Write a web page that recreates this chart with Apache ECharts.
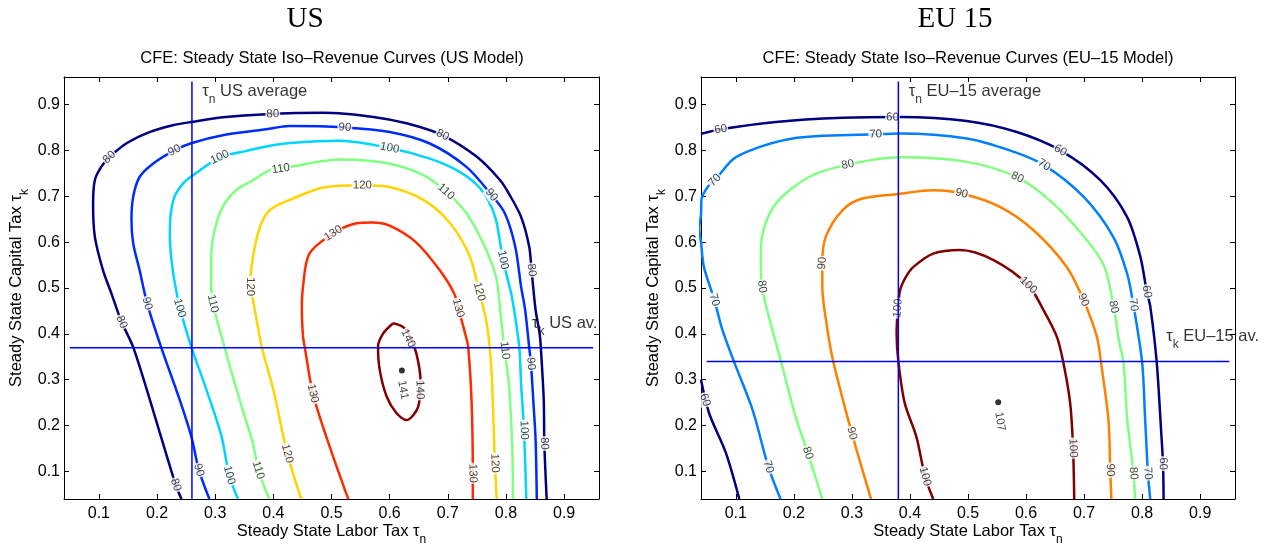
<!DOCTYPE html>
<html><head><meta charset="utf-8">
<script src="https://cdn.jsdelivr.net/npm/echarts@6/dist/echarts.min.js"></script>
<style>html,body{margin:0;padding:0;background:#fff}#c{width:1276px;height:548px}</style>
</head><body><div id="c"></div>
<script>
// ---------- data ----------
const ticks = [0.1, 0.2, 0.3, 0.4, 0.5, 0.6, 0.7, 0.8, 0.9];
const axisMin = 0.04, axisMax = 0.96;

// US model iso-revenue contours [tau_n, tau_k]
const us80 = [[0.242,0.04],[0.232,0.071],[0.193,0.234],[0.159,0.371],[0.139,0.426],[0.121,0.49],[0.107,0.539],[0.093,0.612],[0.09,0.684],[0.093,0.735],[0.104,0.764],[0.118,0.785],[0.147,0.815],[0.187,0.84],[0.227,0.855],[0.26,0.862],[0.313,0.872],[0.388,0.879],[0.486,0.882],[0.572,0.873],[0.629,0.859],[0.691,0.833],[0.75,0.786],[0.79,0.735],[0.805,0.706],[0.826,0.655],[0.84,0.59],[0.844,0.539],[0.851,0.452],[0.858,0.4],[0.86,0.37],[0.865,0.255],[0.866,0.161],[0.87,0.04]];
const us90 = [[0.29,0.04],[0.272,0.103],[0.259,0.176],[0.239,0.256],[0.207,0.371],[0.183,0.466],[0.17,0.539],[0.159,0.597],[0.156,0.648],[0.159,0.699],[0.17,0.742],[0.193,0.771],[0.23,0.8],[0.26,0.816],[0.313,0.833],[0.388,0.846],[0.428,0.853],[0.523,0.85],[0.6,0.84],[0.669,0.815],[0.732,0.764],[0.775,0.703],[0.798,0.663],[0.816,0.59],[0.826,0.503],[0.833,0.452],[0.84,0.37],[0.843,0.335],[0.847,0.255],[0.851,0.168],[0.853,0.04]];
const us100 = [[0.339,0.04],[0.324,0.092],[0.311,0.176],[0.285,0.278],[0.259,0.371],[0.239,0.456],[0.236,0.474],[0.227,0.539],[0.222,0.612],[0.223,0.655],[0.23,0.699],[0.245,0.728],[0.26,0.744],[0.308,0.785],[0.354,0.799],[0.394,0.81],[0.428,0.816],[0.514,0.821],[0.6,0.805],[0.669,0.782],[0.715,0.757],[0.75,0.725],[0.77,0.69],[0.783,0.648],[0.795,0.561],[0.809,0.488],[0.814,0.452],[0.823,0.37],[0.826,0.292],[0.831,0.19],[0.835,0.04]];
const us110 = [[0.393,0.04],[0.374,0.103],[0.365,0.161],[0.342,0.256],[0.316,0.371],[0.296,0.466],[0.293,0.503],[0.293,0.568],[0.299,0.626],[0.313,0.677],[0.336,0.713],[0.365,0.735],[0.394,0.757],[0.428,0.764],[0.514,0.78],[0.6,0.771],[0.658,0.746],[0.697,0.71],[0.732,0.663],[0.761,0.597],[0.783,0.524],[0.79,0.452],[0.797,0.37],[0.805,0.292],[0.811,0.146],[0.812,0.04]];
const us120 = [[0.448,0.04],[0.424,0.139],[0.4,0.278],[0.38,0.372],[0.365,0.474],[0.36,0.503],[0.365,0.568],[0.377,0.633],[0.394,0.67],[0.428,0.692],[0.486,0.719],[0.553,0.724],[0.6,0.72],[0.658,0.692],[0.704,0.641],[0.738,0.568],[0.754,0.492],[0.767,0.423],[0.775,0.321],[0.781,0.118],[0.784,0.04]];
const us130 = [[0.529,0.04],[0.523,0.06],[0.491,0.176],[0.468,0.27],[0.454,0.371],[0.451,0.394],[0.449,0.452],[0.451,0.503],[0.462,0.575],[0.503,0.619],[0.543,0.641],[0.57,0.643],[0.6,0.636],[0.645,0.6],[0.686,0.539],[0.711,0.488],[0.718,0.456],[0.73,0.4],[0.735,0.372],[0.741,0.249],[0.743,0.096],[0.743,0.04]];
const us140 = [[0.606,0.423],[0.623,0.415],[0.635,0.394],[0.646,0.357],[0.653,0.299],[0.649,0.241],[0.629,0.212],[0.612,0.227],[0.595,0.263],[0.583,0.321],[0.58,0.372],[0.589,0.401],[0.606,0.423]];

// contour label positions (US)
const us80Labels = [[0.118,0.785],[0.399,0.879],[0.691,0.833],[0.844,0.539],[0.866,0.161],[0.232,0.071],[0.139,0.426]];
const us90Labels = [[0.23,0.8],[0.523,0.85],[0.775,0.703],[0.843,0.335],[0.272,0.103],[0.183,0.466]];
const us100Labels = [[0.308,0.785],[0.6,0.805],[0.795,0.561],[0.831,0.19],[0.324,0.092],[0.239,0.456]];
const us110Labels = [[0.413,0.76],[0.697,0.71],[0.798,0.364],[0.374,0.103],[0.296,0.466]];
const us120Labels = [[0.36,0.503],[0.553,0.724],[0.754,0.492],[0.781,0.118],[0.424,0.139]];
const us130Labels = [[0.503,0.619],[0.718,0.456],[0.743,0.096],[0.468,0.27]];
const us140Labels = [[0.632,0.39],[0.652,0.278]];

// EU-15 model iso-revenue contours
const eu60Top = [[0.04,0.836],[0.074,0.846],[0.169,0.862],[0.284,0.871],[0.383,0.873],[0.498,0.864],[0.584,0.84],[0.659,0.8],[0.728,0.735],[0.774,0.655],[0.797,0.568],[0.808,0.492],[0.814,0.46],[0.825,0.34],[0.833,0.183],[0.836,0.117],[0.837,0.04]];
const eu60Low = [[0.04,0.3],[0.054,0.227],[0.083,0.14],[0.106,0.04]];
const eu70 = [[0.177,0.04],[0.156,0.11],[0.129,0.234],[0.097,0.339],[0.077,0.408],[0.063,0.474],[0.045,0.546],[0.04,0.6],[0.037,0.63],[0.04,0.66],[0.041,0.695],[0.052,0.721],[0.064,0.735],[0.101,0.786],[0.198,0.826],[0.341,0.835],[0.383,0.837],[0.498,0.826],[0.572,0.8],[0.631,0.768],[0.699,0.699],[0.75,0.612],[0.774,0.532],[0.785,0.463],[0.8,0.338],[0.805,0.219],[0.81,0.096],[0.814,0.04]];
const eu80 = [[0.249,0.04],[0.224,0.14],[0.203,0.219],[0.178,0.339],[0.157,0.437],[0.145,0.503],[0.143,0.56],[0.145,0.612],[0.169,0.684],[0.226,0.742],[0.293,0.769],[0.383,0.785],[0.498,0.775],[0.585,0.741],[0.647,0.684],[0.705,0.604],[0.735,0.546],[0.751,0.459],[0.76,0.386],[0.768,0.336],[0.774,0.219],[0.785,0.096],[0.788,0.04]];
const eu90 = [[0.333,0.04],[0.3,0.183],[0.268,0.339],[0.258,0.408],[0.249,0.503],[0.249,0.554],[0.255,0.612],[0.284,0.67],[0.318,0.695],[0.38,0.705],[0.44,0.713],[0.489,0.706],[0.555,0.677],[0.613,0.626],[0.67,0.546],[0.699,0.474],[0.722,0.394],[0.729,0.339],[0.742,0.212],[0.745,0.103],[0.747,0.04]];
const eu100 = [[0.44,0.04],[0.426,0.089],[0.411,0.176],[0.391,0.249],[0.38,0.34],[0.377,0.4],[0.379,0.452],[0.383,0.495],[0.393,0.524],[0.406,0.546],[0.44,0.575],[0.486,0.583],[0.544,0.561],[0.604,0.506],[0.63,0.452],[0.653,0.394],[0.664,0.339],[0.676,0.249],[0.681,0.151],[0.683,0.04]];

// contour label positions (EU-15)
const eu60Labels = [[0.074,0.846],[0.37,0.872],[0.659,0.8],[0.808,0.492],[0.836,0.117],[0.047,0.256]];
const eu70Labels = [[0.064,0.735],[0.341,0.835],[0.631,0.768],[0.785,0.463],[0.81,0.096],[0.156,0.11],[0.063,0.474]];
const eu80Labels = [[0.293,0.769],[0.585,0.741],[0.751,0.459],[0.785,0.096],[0.224,0.14],[0.145,0.503]];
const eu90Labels = [[0.249,0.554],[0.489,0.706],[0.699,0.474],[0.745,0.103],[0.3,0.183]];
const eu100Labels = [[0.379,0.456],[0.604,0.506],[0.681,0.151],[0.426,0.089]];

// maxima and averages
const usPeak = [0.621, 0.32], usPeakValue = '141', usPeakLabelAt = [0.623, 0.278];
const euPeak = [0.552, 0.251], euPeakValue = '107', euPeakLabelAt = [0.555, 0.209];
const usTauN = 0.26, usTauK = 0.37;
const euTauN = 0.38, euTauK = 0.34;
const refLineXRange = [0.05, 0.95], refLineYRange = [0.04, 0.95];
const usNoteN = [0.277, 0.929], usNoteK = [0.844, 0.4225];
const euNoteN = [0.397, 0.929], euNoteK = [0.8405, 0.3935];

// ---------- styles ----------
const SANS = 'Liberation Sans';
const usColors = ['#000080','#002BFF','#00D4FF','#80FF80','#FFD400','#FF2B00','#800000'];
const euColors = ['#000080','#0080FF','#80FF80','#FF8000','#800000'];

const usCurves = [
  {level: 80, paths: [us80], labels: us80Labels},
  {level: 90, paths: [us90], labels: us90Labels},
  {level: 100, paths: [us100], labels: us100Labels},
  {level: 110, paths: [us110], labels: us110Labels},
  {level: 120, paths: [us120], labels: us120Labels},
  {level: 130, paths: [us130], labels: us130Labels},
  {level: 140, paths: [us140], labels: us140Labels}
];
const euCurves = [
  {level: 60, paths: [eu60Top, eu60Low], labels: eu60Labels},
  {level: 70, paths: [eu70], labels: eu70Labels},
  {level: 80, paths: [eu80], labels: eu80Labels},
  {level: 90, paths: [eu90], labels: eu90Labels},
  {level: 100, paths: [eu100], labels: eu100Labels}
];

const richSub = {
  s: {fontSize: 12, fontFamily: SANS, color: '#000', lineHeight: 14, padding: [16, 0, 0, 0]}
};

function xAxes(gi) {
  const common = {type: 'value', gridIndex: gi, min: axisMin, max: axisMax, splitLine: {show: false},
    axisLine: {show: true, onZero: false, lineStyle: {color: '#000', width: 1}},
    axisTick: {show: true, inside: true, length: 5, customValues: ticks, lineStyle: {color: '#000', width: 1}}};
  return [
    Object.assign({}, common, {position: 'bottom',
      axisLabel: {show: true, customValues: ticks, formatter: v => String(+(+v).toFixed(2)), color: '#000', fontSize: 16, fontFamily: SANS, margin: 7},
      name: 'Steady State Labor Tax τ{s|n}', nameLocation: 'middle', nameGap: 24, nameMoveOverlap: false,
      nameTextStyle: {fontSize: 16.5, fontFamily: SANS, color: '#000', rich: richSub}}),
    Object.assign({}, common, {position: 'top', axisLabel: {show: false}})
  ];
}
function yAxes(gi) {
  const common = {type: 'value', gridIndex: gi, min: axisMin, max: axisMax, splitLine: {show: false},
    axisLine: {show: true, onZero: false, lineStyle: {color: '#000', width: 1}},
    axisTick: {show: true, inside: true, length: 5, customValues: ticks, lineStyle: {color: '#000', width: 1}}};
  return [
    Object.assign({}, common, {position: 'left',
      axisLabel: {show: true, customValues: ticks, formatter: v => String(+(+v).toFixed(2)), color: '#000', fontSize: 16, fontFamily: SANS, margin: 4},
      name: 'Steady State Capital Tax τ{s|k}', nameLocation: 'middle', nameGap: 39, nameRotate: 90, nameMoveOverlap: false,
      nameTextStyle: {fontSize: 16.5, fontFamily: SANS, color: '#000', rich: richSub}}),
    Object.assign({}, common, {position: 'right', axisLabel: {show: false}})
  ];
}

function curveSeries(curves, colors, ai) {
  const out = [];
  curves.forEach((c, i) => {
    c.paths.forEach(p => out.push({type: 'line', xAxisIndex: ai, yAxisIndex: ai, data: p, symbol: 'none',
      smooth: 0.3, clip: true, silent: true, z: 2, lineStyle: {color: colors[i], width: 2.5}}));
  });
  return out;
}
function refSeries(tn, tk, ai) {
  const ls = {color: '#0000FF', width: 1.5};
  return [
    {type: 'line', xAxisIndex: ai, yAxisIndex: ai, data: [[tn, refLineYRange[0]], [tn, refLineYRange[1]]], symbol: 'none', silent: true, z: 6, lineStyle: ls},
    {type: 'line', xAxisIndex: ai, yAxisIndex: ai, data: [[refLineXRange[0], tk], [refLineXRange[1], tk]], symbol: 'none', silent: true, z: 6, lineStyle: ls}
  ];
}
function labelSeries(id, curves, ai, angleFn) {
  const data = [];
  curves.forEach(c => c.labels.forEach(l => {
    data.push({value: [l[0], l[1]], label: {formatter: String(c.level), rotate: angleFn ? angleFn(c, l) : 0}});
  }));
  return {id, type: 'scatter', xAxisIndex: ai, yAxisIndex: ai, data, symbol: 'circle', symbolSize: 1, silent: true, z: 4,
    itemStyle: {color: 'rgba(0,0,0,0)'},
    label: {show: true, position: 'inside', fontSize: 11.5, fontFamily: SANS, color: '#111', backgroundColor: '#fff', padding: [0, 1]}};
}
function peakSeries(pt, labelAt, text, ai) {
  return [
    {type: 'scatter', xAxisIndex: ai, yAxisIndex: ai, data: [pt], symbol: 'circle', symbolSize: 6, silent: true, z: 7, itemStyle: {color: '#000'}},
    {type: 'scatter', xAxisIndex: ai, yAxisIndex: ai, data: [labelAt], symbolSize: 1, silent: true, z: 7, itemStyle: {color: 'rgba(0,0,0,0)'},
      label: {show: true, position: 'inside', formatter: text, rotate: -80, fontSize: 11.5, fontFamily: SANS, color: '#111'}}
  ];
}
function noteSeries(pt, text, ai) {
  return {type: 'scatter', xAxisIndex: ai, yAxisIndex: ai, data: [pt], symbolSize: 1, silent: true, z: 8, clip: false,
    itemStyle: {color: 'rgba(0,0,0,0)'},
    label: {show: true, position: 'right', distance: 0, formatter: text,
      fontSize: 16.5, fontFamily: SANS, color: '#000', rich: richSub}};
}

const graphicText = (x, y, text, font) => ({type: 'text', x, y, silent: true,
  style: {text, font, fill: '#000', align: 'center', verticalAlign: 'middle'}});

const chart = echarts.init(document.getElementById('c'), null, {renderer: 'canvas'});
const option = {
  animation: false,
  backgroundColor: '#fff',
  graphic: [
    graphicText(305, 19, 'US', '29px "Liberation Serif"'),
    graphicText(955, 19, 'EU 15', '29px "Liberation Serif"'),
    graphicText(332, 58, 'CFE: Steady State Iso–Revenue Curves (US Model)', '16.5px "Liberation Sans"'),
    graphicText(968, 58, 'CFE: Steady State Iso–Revenue Curves (EU–15 Model)', '16.5px "Liberation Sans"')
  ],
  grid: [
    {left: 64, top: 77, width: 535, height: 422, outerBoundsMode: 'none', containLabel: false},
    {left: 701, top: 77, width: 534, height: 422, outerBoundsMode: 'none', containLabel: false}
  ],
  xAxis: xAxes(0).concat(xAxes(1)).map((a, i) => { if (i >= 2) a.gridIndex = 1; return a; }),
  yAxis: yAxes(0).concat(yAxes(1)).map((a, i) => { if (i >= 2) a.gridIndex = 1; return a; }),
  series: [].concat(
    curveSeries(usCurves, usColors, 0),
    curveSeries(euCurves, euColors, 2),
    [labelSeries('usLab', usCurves, 0, null), labelSeries('euLab', euCurves, 2, null)],
    refSeries(usTauN, usTauK, 0),
    refSeries(euTauN, euTauK, 2),
    peakSeries(usPeak, usPeakLabelAt, usPeakValue, 0),
    peakSeries(euPeak, euPeakLabelAt, euPeakValue, 2),
    [noteSeries(usNoteN, 'τ{s|n} US average', 0), noteSeries(usNoteK, 'τ{s|k} US av.', 0),
     noteSeries(euNoteN, 'τ{s|n} EU–15 average', 2), noteSeries(euNoteK, 'τ{s|k} EU–15 av.', 2)]
  )
};
chart.setOption(option);

function makeAngleFn(ai) {
  const finder = {xAxisIndex: ai, yAxisIndex: ai};
  return (c, l) => {
    let best = null, bd = Infinity;
    c.paths.forEach(p => p.forEach((q, i) => {
      const d = (q[0] - l[0]) ** 2 + (q[1] - l[1]) ** 2;
      if (d < bd) { bd = d; best = {p, i}; }
    }));
    const p = best.p, i = best.i;
    const a = p[Math.max(0, i - 1)], b = p[Math.min(p.length - 1, i + 1)];
    const pa = chart.convertToPixel(finder, a), pb = chart.convertToPixel(finder, b);
    let ang = -Math.atan2(pb[1] - pa[1], pb[0] - pa[0]) * 180 / Math.PI;
    while (ang >= 90) ang -= 180;
    while (ang < -90) ang += 180;
    return ang;
  };
}
chart.setOption({series: [labelSeries('usLab', usCurves, 0, makeAngleFn(0)), labelSeries('euLab', euCurves, 2, makeAngleFn(2))]});
</script>
</body></html>
